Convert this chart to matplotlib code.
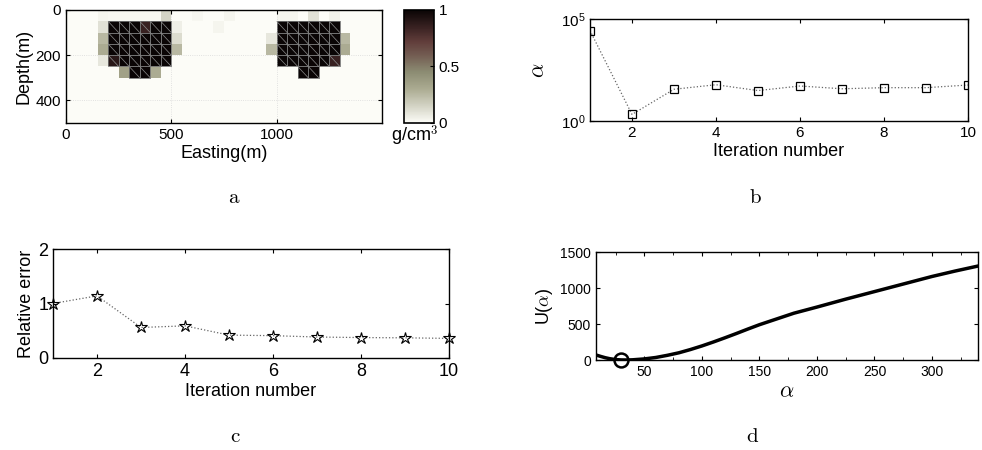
import numpy as np
import matplotlib
matplotlib.use("Agg")
import matplotlib.pyplot as plt
from matplotlib.colors import LinearSegmentedColormap
from matplotlib.collections import LineCollection
from matplotlib.ticker import FixedLocator, MultipleLocator, NullLocator

plt.rcParams['font.family'] = ['Liberation Sans', 'DejaVu Sans']
plt.rcParams['mathtext.fontset'] = 'cm'

# panel a: recovered density, 10 rows (depth 0..500 m) x 30 cols (easting 0..1500 m)
x_edges = np.arange(0, 1501, 50)
z_edges = np.arange(0, 501, 50)
density = np.array([
    [0, 0, 0, .03, .02, .02, .02, .02, .02, .15, 0, 0, .02, 0, 0, .03, 0, 0, 0, 0, .03, .03, 0, .1, 0, .04, 0, 0, 0, 0],
    [0, 0, 0, .1, 1, 1, 1, .85, 1, 1, .05, 0, 0, 0, .03, 0, 0, 0, 0, 0, 1, 1, 1, 1, 1, 1, 0, 0, 0, 0],
    [0, 0, 0, .25, 1, 1, 1, 1, 1, 1, .12, 0, 0, 0, 0, 0, 0, 0, 0, .08, 1, 1, 1, 1, 1, 1, .25, 0, 0, 0],
    [0, 0, 0, .3, 1, 1, 1, 1, 1, 1, .25, 0, 0, 0, 0, 0, 0, 0, 0, .25, 1, 1, 1, 1, 1, 1, .3, 0, 0, 0],
    [0, 0, 0, .08, .9, 1, 1, 1, 1, 1, 0, 0, 0, 0, 0, 0, 0, 0, 0, 0, 1, 1, 1, 1, 1, .85, 0, 0, 0, 0],
    [0, 0, 0, 0, 0, .35, 1, 1, .3, 0, 0, 0, 0, 0, 0, 0, 0, 0, 0, 0, 0, 0, 1, 1, 0, 0, 0, 0, 0, 0],
    [0] * 30,
    [0] * 30,
    [0] * 30,
    [0] * 30,
])

# panel b: regularization parameter per iteration
iters = np.arange(1, 11)
alpha_iter = [27000, 2.1, 36, 60, 31, 52, 38, 43, 43, 58]

# panel c: relative error per iteration
rel_err = [1.0, 1.14, 0.56, 0.59, 0.42, 0.41, 0.385, 0.375, 0.37, 0.36]

# panel d: U(alpha) curve and its minimum
alpha_grid = [8, 12, 16, 20, 25, 30, 35, 40, 50, 60, 70, 80, 90, 100, 110, 120, 130, 140,
              150, 165, 180, 200, 225, 250, 275, 300, 320, 340]
u_vals = [70, 50, 32, 18, 6, 1, 0, 3, 15, 35, 65, 100, 145, 195, 250, 308, 368, 430,
          490, 570, 650, 735, 845, 950, 1055, 1160, 1235, 1305]
alpha_opt = [30]
u_opt = [0]

cmap = LinearSegmentedColormap.from_list("dens", [
    (0.0, (0.99, 0.99, 0.97)),
    (0.12, (0.86, 0.86, 0.81)),
    (0.3, (0.67, 0.67, 0.57)),
    (0.45, (0.55, 0.55, 0.45)),
    (0.6, (0.45, 0.36, 0.32)),
    (0.72, (0.38, 0.24, 0.23)),
    (0.85, (0.22, 0.13, 0.13)),
    (1.0, (0.04, 0.02, 0.02)),
])

W, H = 982, 450
fig = plt.figure(figsize=(W / 100, H / 100), dpi=100)


def rect(x0, x1, y0, y1):
    return [x0 / W, 1 - y1 / H, (x1 - x0) / W, (y1 - y0) / H]


def box_ticks(ax):
    ax.tick_params(direction='in', top=True, right=True, labelsize=11, length=3, width=0.8)
    for s in ax.spines.values():
        s.set_linewidth(1.0)


# ---- a
ax = fig.add_axes(rect(66, 382, 10, 123))
mesh = ax.pcolormesh(x_edges, z_edges, density, cmap=cmap, vmin=0, vmax=1)
# outlines + diagonals on the dense cells
rows, cols = np.nonzero(density >= 0.5)
boxes, diags = [], []
for r, c in zip(rows, cols):
    x0, x1, z0, z1 = x_edges[c], x_edges[c + 1], z_edges[r], z_edges[r + 1]
    boxes.append([(x0, z0), (x1, z0), (x1, z1), (x0, z1), (x0, z0)])
    diags.append([(x0, z0), (x1, z1)])
ax.add_collection(LineCollection(boxes, colors='0.45', linewidths=0.6))
ax.add_collection(LineCollection(diags, colors='0.55', linewidths=0.5))
ax.set_xlim(0, 1500)
ax.set_ylim(500, 0)
ax.set_xticks([0, 500, 1000])
ax.set_yticks([0, 200, 400])
ax.grid(True, linestyle=':', color='0.85', linewidth=0.6)
box_ticks(ax)
ax.set_xlabel('Easting(m)', fontsize=13, labelpad=2)
ax.set_ylabel('Depth(m)', fontsize=13, labelpad=2)

cax = fig.add_axes(rect(404, 434, 10, 123))
cb = fig.colorbar(mesh, cax=cax, ticks=[0, 0.5, 1])
cb.ax.set_yticklabels(['0', '0.5', '1'])
cb.ax.tick_params(labelsize=11, direction='in', length=3)
cb.outline.set_linewidth(1.2)
fig.text(415 / W, 1 - 136 / H, r'g/cm$^3$', fontsize=13, ha='center', va='center')

# ---- b
ax = fig.add_axes(rect(590, 968, 19, 121))
ax.semilogy(iters, alpha_iter, linestyle=':', color='0.4', linewidth=0.9,
            marker='s', mfc='none', mec='k', ms=6, mew=0.9)
ax.set_xlim(1, 10)
ax.set_ylim(1, 1e5)
ax.set_xticks([2, 4, 6, 8, 10])
ax.yaxis.set_major_locator(FixedLocator([1, 1e5]))
ax.yaxis.set_minor_locator(NullLocator())
box_ticks(ax)
ax.set_xlabel('Iteration number', fontsize=13, labelpad=2)
ax.set_ylabel(r'$\alpha$', fontsize=16, labelpad=8)

# ---- c
ax = fig.add_axes(rect(53, 449, 249, 358))
ax.plot(iters, rel_err, linestyle=':', color='0.4', linewidth=0.9,
        marker='*', mfc='none', mec='k', ms=9, mew=0.8, clip_on=False)
ax.set_xlim(1, 10)
ax.set_ylim(0, 2)
ax.set_xticks([2, 4, 6, 8, 10])
ax.set_yticks([0, 1, 2])
box_ticks(ax)
ax.tick_params(labelsize=13)
ax.set_xlabel('Iteration number', fontsize=13, labelpad=2)
ax.set_ylabel('Relative error', fontsize=13, labelpad=2)

# ---- d
ax = fig.add_axes(rect(596, 978, 252, 360))
ax.plot(alpha_grid, u_vals, color='k', linewidth=2.5)
ax.plot(alpha_opt, u_opt, 'o', mfc='none', mec='k', ms=10, mew=1.8, clip_on=False)
ax.set_xlim(8, 340)
ax.set_ylim(0, 1500)
ax.set_xticks([50, 100, 150, 200, 250, 300])
ax.xaxis.set_minor_locator(MultipleLocator(25))
ax.set_yticks([0, 500, 1000, 1500])
box_ticks(ax)
ax.tick_params(labelsize=10)
ax.tick_params(which='minor', direction='in', top=True, length=2)
ax.set_xlabel(r'$\alpha$', fontsize=16, labelpad=2)
ax.set_ylabel(r'U($\alpha$)', fontsize=13, labelpad=4)

# panel letters
for lx, ly, s in [(234, 197, 'a'), (755, 197, 'b'), (235, 437, 'c'), (753, 437, 'd')]:
    fig.text(lx / W, 1 - ly / H, r'$\mathrm{%s}$' % s, fontsize=15, ha='center', va='center')

fig.savefig('out.png', dpi=100)
